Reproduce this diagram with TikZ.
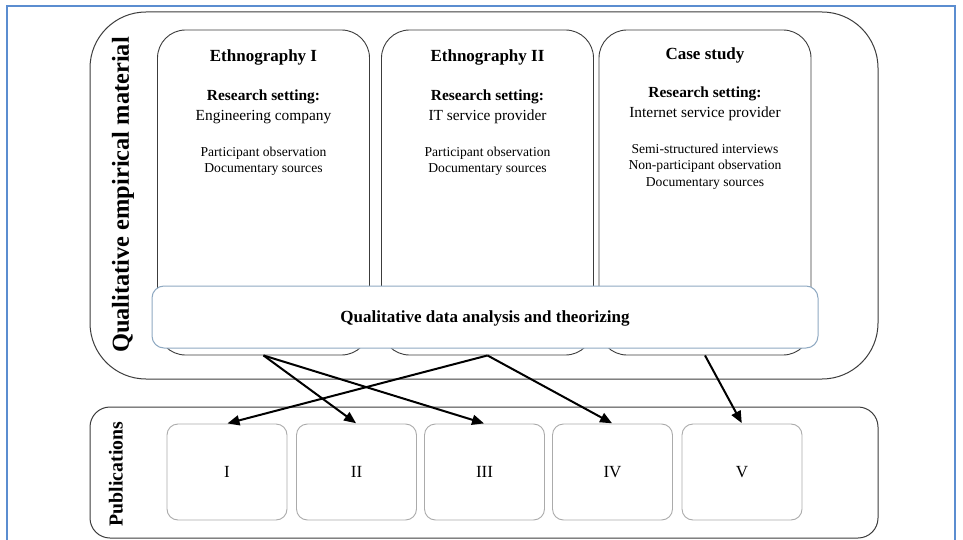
\documentclass[tikz,border=0pt]{standalone}
\usepackage{fontspec}
\setmainfont{Liberation Serif}
\usetikzlibrary{arrows.meta}
\definecolor{frameblue}{HTML}{5B8DD0}
\definecolor{boxline}{HTML}{3C3C3C}
\definecolor{publine}{HTML}{ABABAB}
\definecolor{barline}{HTML}{8FA9C2}
\tikzset{
  bigbox/.style={draw=boxline, line width=1pt, inner sep=0pt},
  studybox/.style={draw=boxline, line width=0.9pt, rounded corners=28pt, inner sep=0pt,
    minimum width=212pt, minimum height=325pt},
  barbox/.style={draw=barline, line width=1pt, fill=white, rounded corners=12pt, inner sep=0pt,
    minimum width=666pt, minimum height=62pt},
  pubbox/.style={draw=publine, line width=0.9pt, rounded corners=11pt, inner sep=0pt,
    minimum width=120pt, minimum height=96pt, font=\fontsize{17}{20}\selectfont},
  titletext/.style={font=\fontsize{17}{20}\selectfont\bfseries, inner sep=0pt},
  settingtext/.style={align=center, inner sep=0pt, font=\fontsize{15.4}{20}\selectfont},
  methodtext/.style={align=center, inner sep=0pt, font=\fontsize{13.6}{16.5}\selectfont},
  sidelabel/.style={rotate=90, inner sep=0pt},
  arr/.style={-{Triangle[length=12pt,width=10pt]}, line width=2pt, black, shorten >=0.5pt}
}
\begin{document}
\begin{tikzpicture}[x=1pt,y=-1pt]
\useasboundingbox (0,0) rectangle (963,540);
\fill[white] (0,0) rectangle (963,540);
\draw[frameblue, line width=2pt] (7,540) -- (7,6) -- (955,6) -- (955,540);

% outer containers
\node[bigbox, rounded corners=56pt, minimum width=788pt, minimum height=367pt] (emp) at (484,195.5) {};
\node[bigbox, rounded corners=20pt, minimum width=788pt, minimum height=131pt] (pubs) at (484,472.5) {};

\node[sidelabel, font=\fontsize{24.4}{28}\selectfont\bfseries] (emplabel) at (123,195) {Qualitative empirical material};
\node[sidelabel, font=\fontsize{19.8}{24}\selectfont\bfseries] (publabel) at (116,474) {Publications};

% study boxes
\node[studybox] (b1) at (263.5,192.5) {};
\node[studybox] (b2) at (487.5,192.5) {};
\node[studybox] (b3) at (705,192.5) {};

\node[titletext] (t1) at (263.5,57) {Ethnography I};
\node[settingtext] (s1) at (263.5,107) {\textbf{Research setting:}\\Engineering company};
\node[methodtext] (m1) at (263.5,161) {Participant observation\\Documentary sources};

\node[titletext] (t2) at (487.5,57) {Ethnography II};
\node[settingtext] (s2) at (487.5,107) {\textbf{Research setting:}\\IT service provider};
\node[methodtext] (m2) at (487.5,161) {Participant observation\\Documentary sources};

\node[titletext] (t3) at (705,55) {Case study};
\node[settingtext] (s3) at (705,104) {\textbf{Research setting:}\\Internet service provider};
\node[methodtext] (m3) at (705,166.5) {Semi-structured interviews\\Non-participant observation\\Documentary sources};

% analysis bar
\node[barbox] (bar) at (485,317) {};
\node[titletext] (bartext) at (485,318) {Qualitative data analysis and theorizing};

% publications
\node[pubbox] (p1) at (227,472) {I};
\node[pubbox] (p2) at (356.5,472) {II};
\node[pubbox] (p3) at (484.5,472) {III};
\node[pubbox] (p4) at (612.5,472) {IV};
\node[pubbox] (p5) at (742,472) {V};

% connectors
\draw[arr] (b1.south) -- (p2.north);
\draw[arr] (b1.south) -- (p3.north);
\draw[arr] (b2.south) -- (p1.north);
\draw[arr] (b2.south) -- (p4.north);
\draw[arr] (b3.south) -- (p5.north);
\end{tikzpicture}
\end{document}
